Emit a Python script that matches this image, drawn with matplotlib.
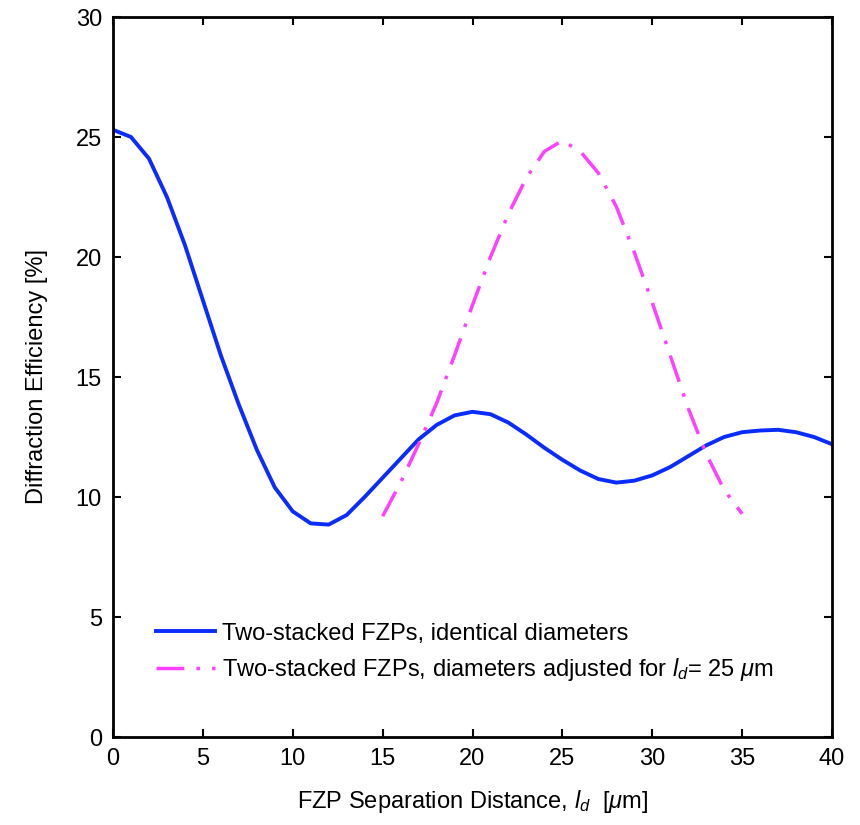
import matplotlib
matplotlib.use("Agg")
import matplotlib.pyplot as plt

plt.rcParams['font.family'] = ['Liberation Sans', 'DejaVu Sans']
plt.rcParams['mathtext.fontset'] = 'custom'
plt.rcParams['mathtext.it'] = 'Liberation Sans:italic'
plt.rcParams['mathtext.rm'] = 'Liberation Sans'

# blue curve: identical diameters
ld_same = list(range(0, 41))
eff_same = [25.3, 25.0, 24.1, 22.5, 20.5, 18.2, 15.9, 13.85, 11.97, 10.4,
            9.4, 8.9, 8.85, 9.25, 10.0, 10.8, 11.6, 12.4, 13.0, 13.4,
            13.55, 13.45, 13.1, 12.6, 12.05, 11.55, 11.1, 10.75, 10.6, 10.68,
            10.9, 11.25, 11.7, 12.15, 12.5, 12.7, 12.77, 12.8, 12.7, 12.5,
            12.2]

# magenta curve: diameters adjusted for ld = 25 um
ld_adj = list(range(15, 36))
eff_adj = [9.2, 10.6, 12.2, 13.9, 15.9, 18.0, 20.0, 21.8, 23.3, 24.4,
           24.85, 24.4, 23.5, 22.1, 20.2, 18.1, 15.9, 13.7, 11.8, 10.3,
           9.3]

fig = plt.figure(figsize=(8.6, 8.25), dpi=100)
ax = fig.add_axes([113/860, 88/825, 719/860, 720/825])

ax.plot(ld_same, eff_same, color='#0a2cff', lw=2.8,
        label='Two-stacked FZPs, identical diameters')
ax.plot(ld_adj, eff_adj, color='#ff40ff', lw=2.5, linestyle=(0, (8, 3.5, 1, 3.5)),
        label=r'Two-stacked FZPs, diameters adjusted for $l_d$= 25 $\mu$m')

ax.set_xlim(0, 40)
ax.set_ylim(0, 30)
ax.set_xticks(range(0, 41, 5))
ax.set_yticks(range(0, 31, 5))
ax.tick_params(direction='in', length=6, width=1.5, labelsize=17, pad=8,
               top=True, right=True)
for s in ax.spines.values():
    s.set_linewidth(2)

ax.set_xlabel(r'FZP Separation Distance, $l_d$  [$\mu$m]', fontsize=17, labelpad=13)
ax.set_ylabel('Diffraction Efficiency [%]', fontsize=17, labelpad=20)

leg = ax.legend(loc='lower left', bbox_to_anchor=(0.03, 0.045), frameon=False,
                fontsize=17, handlelength=2.5, handletextpad=0.3, labelspacing=0.5)

fig.savefig('out.png', dpi=100)
